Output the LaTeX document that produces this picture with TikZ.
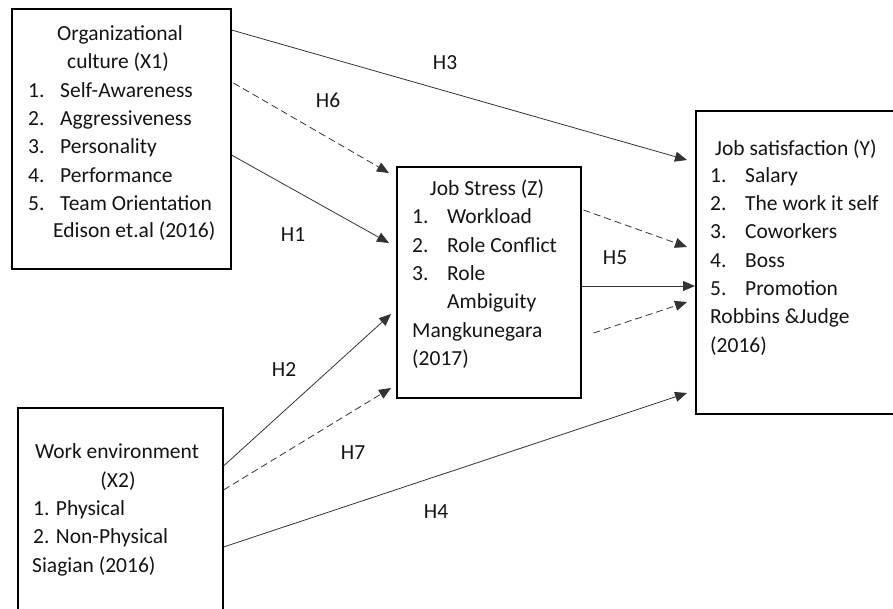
\documentclass[tikz,border=0pt]{standalone}
\usepackage{fontspec}
\setmainfont{Carlito}
\usetikzlibrary{arrows.meta}
\begin{document}
\begin{tikzpicture}[x=1pt,y=-1pt,
  box/.style={draw=black,line width=1.5pt,rectangle,anchor=north west,inner sep=0pt},
  txt/.style={inner sep=0pt,font=\fontsize{21.5}{28}\selectfont,text=black!92},
  lbl/.style={inner sep=0pt,font=\fontsize{21.5}{28}\selectfont,text=black!92},
  arr/.style={line width=0.8pt,draw=black!80,-{Triangle[length=12pt,width=10pt]}},
  darr/.style={arr,dash pattern=on 7pt off 4pt}]
\useasboundingbox (0,0) rectangle (893,608);
% boxes
\node[box,minimum width=219pt,minimum height=260pt] (x1) at (11,8) {};
\node[box,minimum width=184pt,minimum height=231pt] (z) at (396,166) {};
\node[box,minimum width=210pt,minimum height=303pt] (y) at (695,110) {};
\node[box,minimum width=205pt,minimum height=220pt] (x2) at (17,407) {};
% X1 text
\node[txt,anchor=base] (x1t1) at (120,40) {Organizational};
\node[txt,anchor=base] (x1t2) at (118,68) {culture (X1)};
\node[txt,anchor=base west] (x1n1) at (28,97) {1.};
\node[txt,anchor=base west] (x1i1) at (60,97) {Self-Awareness};
\node[txt,anchor=base west] (x1n2) at (28,125) {2.};
\node[txt,anchor=base west] (x1i2) at (60,125) {Aggressiveness};
\node[txt,anchor=base west] (x1n3) at (28,153) {3.};
\node[txt,anchor=base west] (x1i3) at (60,153) {Personality};
\node[txt,anchor=base west] (x1n4) at (28,182) {4.};
\node[txt,anchor=base west] (x1i4) at (60,182) {Performance};
\node[txt,anchor=base west] (x1n5) at (28,210) {5.};
\node[txt,anchor=base west] (x1i5) at (60,210) {Team Orientation};
\node[txt,anchor=base west] (x1r) at (53,237) {Edison et.al (2016)};
% Z text
\node[txt,anchor=base] (zt) at (487,195) {Job Stress (Z)};
\node[txt,anchor=base west] (zn1) at (412,223) {1.};
\node[txt,anchor=base west] (zi1) at (447,223) {Workload};
\node[txt,anchor=base west] (zn2) at (412,252) {2.};
\node[txt,anchor=base west] (zi2) at (447,252) {Role Conflict};
\node[txt,anchor=base west] (zn3) at (412,280) {3.};
\node[txt,anchor=base west] (zi3) at (447,280) {Role};
\node[txt,anchor=base west] (zi3b) at (447,308) {Ambiguity};
\node[txt,anchor=base west] (zr1) at (412,337) {Mangkunegara};
\node[txt,anchor=base west] (zr2) at (412,365) {(2017)};
% Y text
\node[txt,anchor=base west] (yt) at (715,155) {Job satisfaction (Y)};
\node[txt,anchor=base west] (yn1) at (710,182) {1.};
\node[txt,anchor=base west] (yi1) at (745,182) {Salary};
\node[txt,anchor=base west] (yn2) at (710,210) {2.};
\node[txt,anchor=base west] (yi2) at (745,210) {The work it self};
\node[txt,anchor=base west] (yn3) at (710,238) {3.};
\node[txt,anchor=base west] (yi3) at (745,238) {Coworkers};
\node[txt,anchor=base west] (yn4) at (710,267) {4.};
\node[txt,anchor=base west] (yi4) at (745,267) {Boss};
\node[txt,anchor=base west] (yn5) at (710,295) {5.};
\node[txt,anchor=base west] (yi5) at (745,295) {Promotion};
\node[txt,anchor=base west] (yr1) at (710,323) {Robbins \&Judge};
\node[txt,anchor=base west] (yr2) at (710,352) {(2016)};
% X2 text
\node[txt,anchor=base] (x2t1) at (117,458) {Work environment};
\node[txt,anchor=base] (x2t2) at (118,487) {(X2)};
\node[txt,anchor=base west] (x2i1) at (33,515) {1. Physical};
\node[txt,anchor=base west] (x2i2) at (33,543) {2. Non-Physical};
\node[txt,anchor=base west] (x2r) at (32,572) {Siagian (2016)};
% connectors
\draw[arr] ([yshift=-22pt]x1.north east) -- ([xshift=-8pt,yshift=-50pt]y.north west);
\draw[darr] ([xshift=2pt,yshift=-75pt]x1.north east) -- ([xshift=-7pt,yshift=-7pt]z.north west);
\draw[arr] ([yshift=-147pt]x1.north east) -- ([xshift=-7pt,yshift=-77pt]z.north west);
\draw[darr] ([xshift=2pt,yshift=-44pt]z.north east) -- ([xshift=-8pt,yshift=-137pt]y.north west);
\draw[arr] ([yshift=-120pt]z.north east) -- ([yshift=-176pt]y.north west);
\draw[darr] ([xshift=12pt,yshift=-167pt]z.north east) -- ([xshift=-8pt,yshift=-192pt]y.north west);
\draw[arr] ([yshift=-140pt]x2.north east) -- ([xshift=-8pt,yshift=-283pt]y.north west);
\draw[arr] ([yshift=-59pt]x2.north east) -- ([xshift=-5pt,yshift=-148pt]z.north west);
\draw[darr] ([yshift=-83pt]x2.north east) -- ([xshift=-5pt,yshift=-222pt]z.north west);
% labels
\node[lbl] (h3) at (445,63) {H3};
\node[lbl] (h6) at (328,100) {H6};
\node[lbl] (h1) at (293,235) {H1};
\node[lbl] (h5) at (615,258) {H5};
\node[lbl] (h2) at (284,370) {H2};
\node[lbl] (h7) at (353,453) {H7};
\node[lbl] (h4) at (436,512) {H4};
\end{tikzpicture}
\end{document}
